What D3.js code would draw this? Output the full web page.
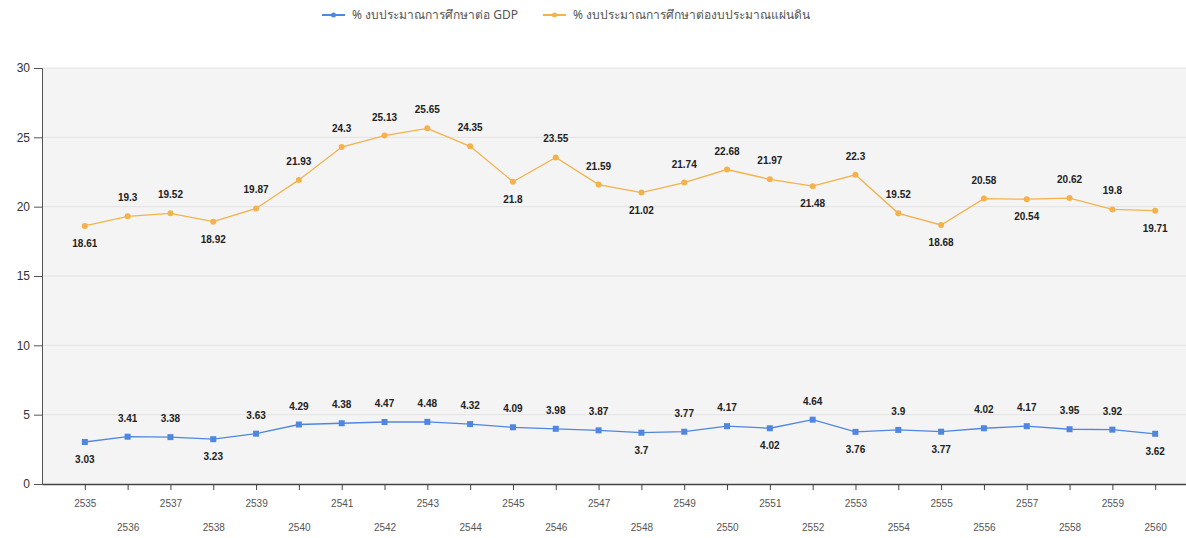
<!DOCTYPE html>
<html>
<head>
<meta charset="utf-8">
<script src="https://cdn.jsdelivr.net/npm/d3@7"></script>
<style>
  body { margin: 0; background: #fff; font-family: "Liberation Sans", Arial, sans-serif; }
</style>
</head>
<body>
<div id="chart"></div>
<script>
// Data
const years = ['2535','2536','2537','2538','2539','2540','2541','2542','2543','2544','2545','2546','2547',
               '2548','2549','2550','2551','2552','2553','2554','2555','2556','2557','2558','2559','2560'];
const gdpShare = [3.03, 3.41, 3.38, 3.23, 3.63, 4.29, 4.38, 4.47, 4.48, 4.32, 4.09, 3.98, 3.87,
                  3.7, 3.77, 4.17, 4.02, 4.64, 3.76, 3.9, 3.77, 4.02, 4.17, 3.95, 3.92, 3.62];
const budgetShare = [18.61, 19.3, 19.52, 18.92, 19.87, 21.93, 24.3, 25.13, 25.65, 24.35, 21.8, 23.55, 21.59,
                     21.02, 21.74, 22.68, 21.97, 21.48, 22.3, 19.52, 18.68, 20.58, 20.54, 20.62, 19.8, 19.71];
const seriesNames = ['% งบประมาณการศึกษาต่อ GDP', '% งบประมาณการศึกษาต่องบประมาณแผ่นดิน'];
const yTicks = [0, 5, 10, 15, 20, 25, 30];

const width = 1186, height = 538;
const margin = { top: 68, right: 0, bottom: 54, left: 42 };

const svg = d3.select('#chart').append('svg')
    .attr('width', width)
    .attr('height', height);

const x = d3.scalePoint()
    .domain(years)
    .range([margin.left, 1198])
    .padding(1);

const y = d3.scaleLinear()
    .domain([0, 30])
    .range([height - margin.bottom, margin.top]);

// Plot background
svg.append('rect')
    .attr('x', margin.left)
    .attr('y', margin.top)
    .attr('width', width - margin.left)
    .attr('height', y(0) - margin.top)
    .style('fill', '#f4f4f4');

// Grid lines
svg.append('g')
    .selectAll('line')
    .data(yTicks.filter(d => d > 0))
    .enter()
    .append('line')
    .attr('x1', margin.left)
    .attr('x2', width)
    .attr('y1', d => y(d))
    .attr('y2', d => y(d))
    .style('stroke', '#e2e2e2')
    .style('stroke-width', 1);

// Y axis
const yAxis = svg.append('g')
    .attr('transform', `translate(${margin.left},0)`)
    .call(d3.axisLeft(y).tickValues(yTicks).tickSize(8).tickPadding(4));
yAxis.select('.domain').style('stroke', '#555');
yAxis.selectAll('.tick line').style('stroke', '#555');
yAxis.selectAll('text')
    .style('font-size', '12px')
    .style('fill', '#333')
    .style('font-family', '"Liberation Sans", Arial, sans-serif');

// X axis
const xAxis = svg.append('g')
    .attr('transform', `translate(0,${y(0)})`)
    .call(d3.axisBottom(x).tickSize(6).tickSizeOuter(0));
xAxis.select('.domain').style('stroke', '#444').style('stroke-width', 1.5);
xAxis.selectAll('.tick line').style('stroke', '#444');
xAxis.selectAll('text')
    .attr('y', (d, i) => i % 2 === 0 ? 16 : 40)
    .style('font-size', '10px')
    .style('fill', '#555')
    .style('font-family', '"Liberation Sans", Arial, sans-serif');

const series = [
    { name: seriesNames[0], values: gdpShare, color: '#4f86e0', marker: 'square' },
    { name: seriesNames[1], values: budgetShare, color: '#f3b24b', marker: 'circle' }
];

const line = d3.line()
    .x((d, i) => x(years[i]))
    .y(d => y(d));

series.forEach(s => {
    const g = svg.append('g');

    g.append('path')
        .datum(s.values)
        .attr('d', line)
        .style('fill', 'none')
        .style('stroke', s.color)
        .style('stroke-width', 1.3);

    if (s.marker === 'square') {
        g.selectAll('.pt')
            .data(s.values)
            .enter()
            .append('rect')
            .attr('x', (d, i) => x(years[i]) - 3)
            .attr('y', d => y(d) - 3)
            .attr('width', 6)
            .attr('height', 6)
            .style('fill', s.color);
    } else {
        g.selectAll('.pt')
            .data(s.values)
            .enter()
            .append('circle')
            .attr('cx', (d, i) => x(years[i]))
            .attr('cy', d => y(d))
            .attr('r', 3)
            .style('fill', s.color);
    }

    // value labels: below local minima, above otherwise
    g.selectAll('.lbl')
        .data(s.values)
        .enter()
        .append('text')
        .attr('x', (d, i) => x(years[i]))
        .attr('y', (d, i) => {
            const prev = i > 0 ? s.values[i - 1] : Infinity;
            const next = i < s.values.length - 1 ? s.values[i + 1] : Infinity;
            const below = d < prev && d < next;
            return below ? y(d) + 21 : y(d) - 15;
        })
        .attr('text-anchor', 'middle')
        .style('font-size', '10px')
        .style('font-weight', 'bold')
        .style('fill', '#222')
        .text(d => d);
});

// Legend
const legendX = [322, 543];
series.forEach((s, i) => {
    const lg = svg.append('g').attr('transform', `translate(${legendX[i]},15)`);
    lg.append('line')
        .attr('x1', 0).attr('x2', 23)
        .style('stroke', s.color)
        .style('stroke-width', 2);
    lg.append('circle')
        .attr('cx', 11.5).attr('r', 2.5)
        .style('fill', s.color);
    lg.append('text')
        .attr('x', 30)
        .attr('y', 4)
        .style('font-size', '12px')
        .style('fill', '#555')
        .style('font-family', '"Noto Sans", "Liberation Sans", sans-serif')
        .text(s.name);
});
</script>
</body>
</html>
